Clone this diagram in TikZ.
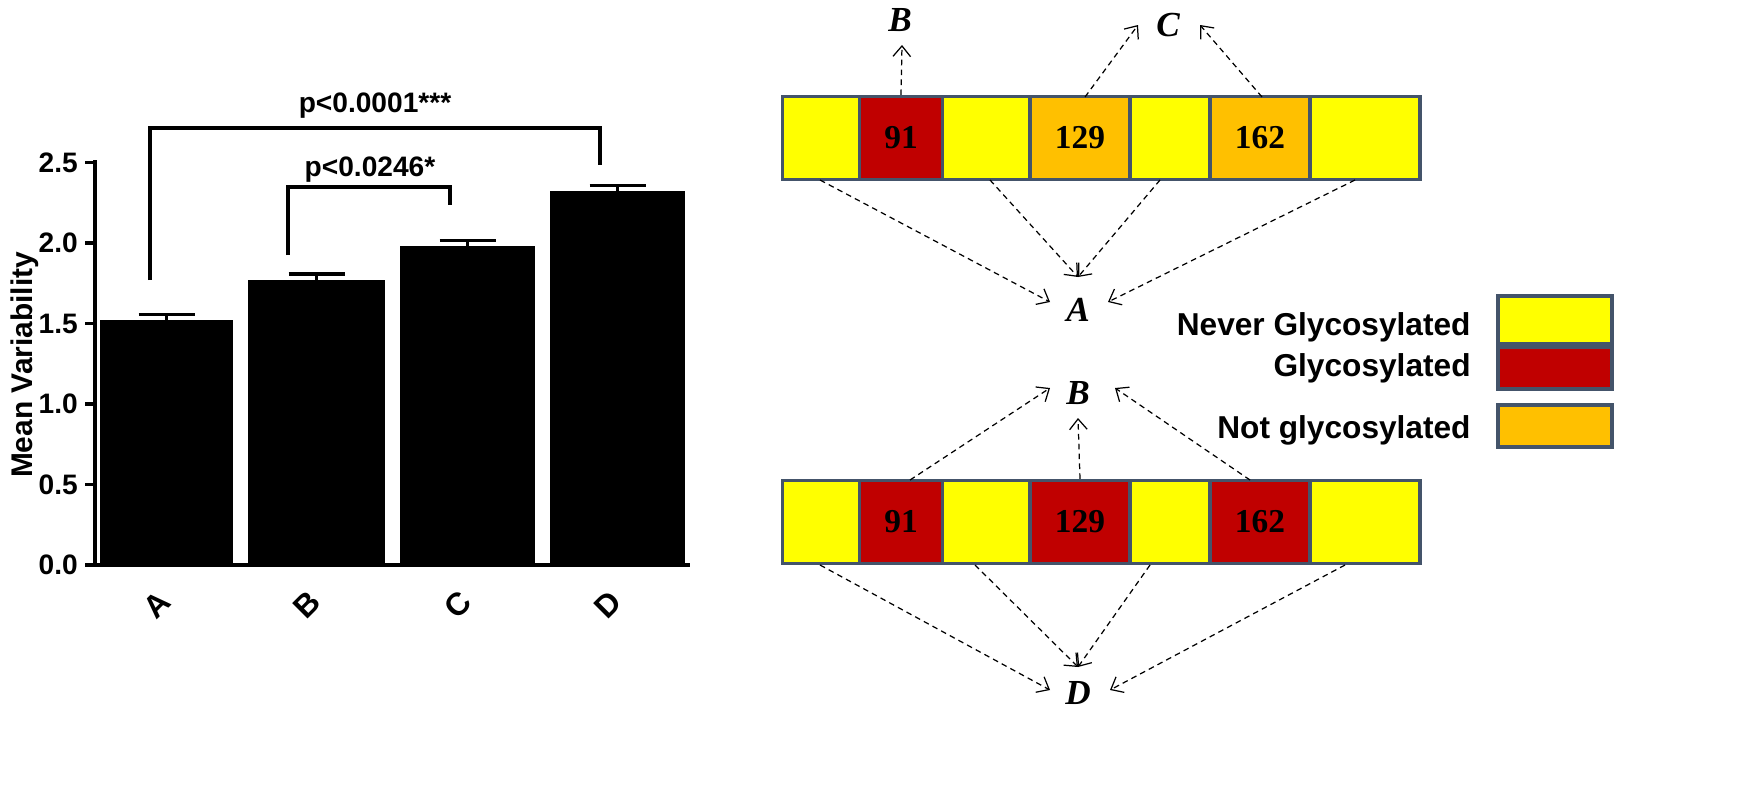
\documentclass[tikz,border=0pt]{standalone}
\usepackage{fontspec}
\setmainfont{Liberation Serif}
\setsansfont{Liberation Sans}
\usetikzlibrary{arrows.meta}
\definecolor{edgeblue}{RGB}{68,84,106}
\definecolor{gyellow}{RGB}{255,255,0}
\definecolor{gred}{RGB}{192,0,0}
\definecolor{gorange}{RGB}{255,192,0}
\tikzset{
  bar/.style={fill=black},
  cell/.style={draw=edgeblue,line width=0.9pt,minimum height=0.83cm,inner sep=0pt,font=\bfseries\fontsize{9.5}{9.5}\selectfont},
  site/.style={font=\bfseries\itshape\fontsize{10}{10}\selectfont},
  link/.style={dash pattern=on 1.6pt off 1.2pt,-{Straight Barb[open,length=3pt,width=5pt]},line width=0.35pt},
  axlab/.style={font=\sffamily\bfseries\fontsize{8}{8}\selectfont},
  legend/.style={font=\sffamily\bfseries\fontsize{9}{9}\selectfont,anchor=east}
}
\begin{document}
\begin{tikzpicture}[x=0.01cm,y=-0.01cm]
\useasboundingbox (0,0) rectangle (1755,800);
% bar chart
\foreach \l/\xa/\xb/\v in {A/100/233/1.52,B/248/385/1.77,C/400/535/1.98,D/550/685/2.32}{
  \fill[bar] (\xa,565) rectangle (\xb,565-161*\v);
  \draw[line width=0.9pt] ({(\xa+\xb)/2},565-161*\v) -- ({(\xa+\xb)/2},565-161*\v-6)
     ({(\xa+\xb)/2-28},565-161*\v-6) -- ({(\xa+\xb)/2+28},565-161*\v-6);
  \node[axlab,rotate=45,font=\sffamily\bfseries\fontsize{9}{9}\selectfont] (x\l) at ({(\xa+\xb)/2-10},605) {\l};
}
\draw[line width=0.9pt] (95,160) -- (95,565) -- (690,565);
\foreach \t [count=\i from 0] in {0.0,0.5,1.0,1.5,2.0,2.5}{
  \draw[line width=0.9pt] (85,565-80.5*\i) -- (95,565-80.5*\i);
  \node[axlab,anchor=east,inner sep=1pt] (y\i) at (82,565-80.5*\i) {\t};
}
\node[axlab,rotate=90,font=\sffamily\bfseries\fontsize{8.5}{8.5}\selectfont] (ylab) at (25,365) {Mean Variability};
\draw[line width=0.9pt] (150,280) -- (150,128) -- (600,128) -- (600,165);
\node[axlab] (p1) at (375,106) {p<0.0001***};
\draw[line width=0.9pt] (288,255) -- (288,187) -- (450,187) -- (450,205);
\node[axlab] (p2) at (370,170) {p<0.0246*};
% strips
\foreach \r/\y/\fa/\fb in {t/138/gorange/gorange,b/522/gred/gred}{
  \node[cell,fill=gyellow,minimum width=0.77cm] (\r1) at (821,\y) {};
  \node[cell,fill=gred,minimum width=0.83cm] (\r2) at (901,\y) {91};
  \node[cell,fill=gyellow,minimum width=0.87cm] (\r3) at (986,\y) {};
  \node[cell,fill=\fa,minimum width=1.0cm] (\r4) at (1080,\y) {129};
  \node[cell,fill=gyellow,minimum width=0.8cm] (\r5) at (1170,\y) {};
  \node[cell,fill=\fb,minimum width=1.0cm] (\r6) at (1260,\y) {162};
  \node[cell,fill=gyellow,minimum width=1.1cm] (\r7) at (1365,\y) {};
}
\node[site] (tB) at (900,20) {B};
\node[site] (tC) at (1168,25) {C};
\node[site] (mA) at (1078,310) {A};
\node[site] (mB) at (1078,393) {B};
\node[site] (bD) at (1078,693) {D};
\draw[link] (t2.north) -- (902,45);
\draw[link] (1085,97) -- (1138,25);
\draw[link] (1262,97) -- (1200,25);
\draw[link] (820,180) -- (1050,302);
\draw[link] (990,180) -- (1078,277);
\draw[link] (1160,180) -- (1078,277);
\draw[link] (1355,180) -- (1108,302);
\draw[link] (910,480) -- (1050,388);
\draw[link] (b4.north) -- (1078,418);
\draw[link] (1250,480) -- (1115,388);
\draw[link] (820,565) -- (1050,690);
\draw[link] (975,565) -- (1078,667);
\draw[link] (1150,565) -- (1078,667);
\draw[link] (1345,565) -- (1110,690);
% legend
\node[draw=edgeblue,line width=0.9pt,fill=gyellow,minimum width=1.14cm,minimum height=0.48cm] (kNever) at (1555,320) {};
\node[draw=edgeblue,line width=0.9pt,fill=gred,minimum width=1.14cm,minimum height=0.42cm] (kGly) at (1555,368) {};
\node[draw=edgeblue,line width=0.9pt,fill=gorange,minimum width=1.14cm,minimum height=0.42cm] (kNot) at (1555,426) {};
\node[legend] (tNever) at (1483,327) {Never Glycosylated};
\node[legend] (tGly) at (1483,368) {Glycosylated};
\node[legend] (tNot) at (1483,430) {Not glycosylated};
\end{tikzpicture}
\end{document}
